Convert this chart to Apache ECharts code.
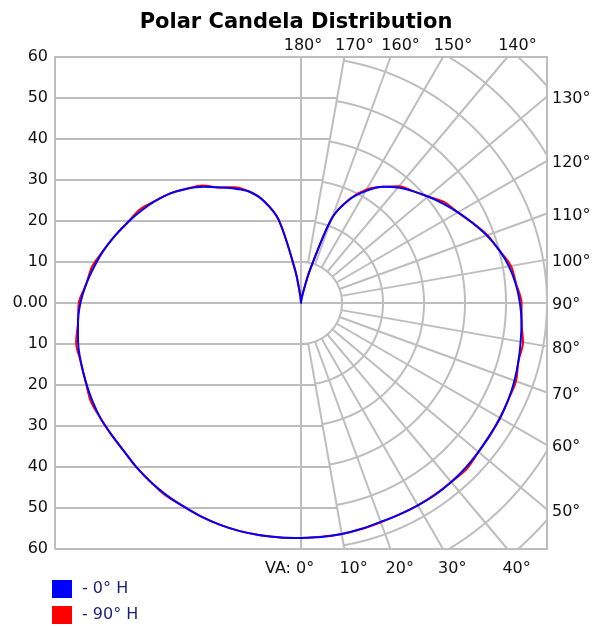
<!DOCTYPE html>
<html>
<head>
<meta charset="utf-8">
<script src="https://cdn.jsdelivr.net/npm/echarts@6.0.0/dist/echarts.min.js"></script>
<style>
  html, body { margin: 0; padding: 0; background: #ffffff; }
  #chart { width: 592px; height: 627px; }
</style>
</head>
<body>
<div id="chart"></div>
<script>
// Vertical angles (degrees from nadir) at which the candela values are given
const verticalAngles = [0,5,10,15,20,25,30,35,40,45,50,55,60,65,70,75,80,85,90,
                        95,100,105,110,115,120,125,130,135,140,145,150,155,160,165,170,175,180];

// 0° H series: right half (0° plane) and left half (180° plane)
const plane0 = [57.3,57.3,57.2,57.0,56.8,56.9,57.0,57.1,57.0,56.8,56.5,56.2,56.1,55.8,55.4,54.9,54.4,54.0,53.4,
                52.6,51.5,50.0,48.2,46.2,44.2,42.3,40.4,38.6,36.8,34.6,31.5,27.8,22.0,8.0,2.0,0.6,0];
const plane180 = [57.3,57.4,57.5,57.6,57.6,57.5,57.3,57.2,57.0,56.7,56.3,56.3,56.4,56.2,55.9,55.6,55.2,54.6,53.8,
                  52.6,51.2,49.8,48.2,46.6,45.0,43.4,41.6,39.4,37.0,34.4,32.2,30.0,26.5,21.0,8.0,1.5,0];

// 90° H series: right half (90° plane) and left half (270° plane)
const plane90 = [57.3,57.2,57.2,57.1,56.9,56.9,57.0,57.0,57.0,57.2,56.5,56.3,56.0,55.8,55.8,54.9,55.0,54.0,53.8,
                 52.7,52.0,50.0,48.4,46.2,44.2,42.8,40.4,38.6,37.2,34.6,32.0,27.9,22.0,8.1,2.0,0.6,0];
const plane270 = [57.3,57.4,57.5,57.6,57.6,57.5,57.3,57.4,57.0,56.7,56.3,56.3,56.4,56.6,55.9,55.6,55.7,54.6,54.2,
                  52.6,51.7,49.8,48.2,46.6,45.5,43.4,41.6,39.4,37.4,34.4,32.6,30.0,26.5,21.0,8.0,1.5,0];

// Intensity scale and angle grid
const intensityMax = 60;
const intensityStep = 10;
const gridAngles = [10,20,30,40,50,60,70,80,90,100,110,120,130,140,150,160,170];
const topAngleLabels = [180,170,160,150,140];
const rightAngleLabels = [130,120,110,100,90,80,70,60,50];
const bottomAngleLabels = [0,10,20,30,40];

const FONT = '"DejaVu Sans", Verdana, sans-serif';
const GRID_COLOR = '#bdbdbd';
const PLOT = { left: 55, top: 57, size: 492 };
const CX = PLOT.left + PLOT.size / 2;
const CY = PLOT.top + PLOT.size / 2;

// Closed outline: right half from nadir to zenith, then left half back down
function outline(right, left) {
  const pts = [];
  verticalAngles.forEach((a, i) => pts.push([right[i], a]));
  for (let i = verticalAngles.length - 1; i >= 0; i--) {
    pts.push([left[i], 360 - verticalAngles[i]]);
  }
  return pts;
}

const rad = d => d * Math.PI / 180;
// direction of a vertical angle in x-right / y-up units (0° points down)
const dir = a => [Math.sin(rad(a)), -Math.cos(rad(a))];

// where a ray from the centre leaves the plot square
function exitPoint(a) {
  const [dx, dy] = dir(a);
  let t = Infinity;
  if (dx > 1e-9) t = Math.min(t, intensityMax / dx);
  if (Math.abs(dy) > 1e-9) t = Math.min(t, intensityMax / Math.abs(dy));
  return [dx * t, dy * t];
}

// arc samples of a circle kept inside the right half of the square
function arcRuns(r, a0, a1) {
  const runs = [];
  let cur = null;
  for (let a = a0; a <= a1 + 1e-9; a += 0.1) {
    const [dx, dy] = dir(a);
    const x = dx * r, y = dy * r;
    if (x <= intensityMax + 1e-9 && Math.abs(y) <= intensityMax + 1e-9) {
      if (!cur) { cur = []; runs.push(cur); }
      cur.push([x, y]);
    } else {
      cur = null;
    }
  }
  return runs;
}

function renderGrid(params, api) {
  const P = p => api.coord(p);
  const children = [];
  const stroke = { stroke: GRID_COLOR, lineWidth: 2, fill: null };
  const poly = pts => children.push({ type: 'polyline', silent: true,
    shape: { points: pts.map(P) }, style: stroke });
  const text = (x, y, s, align) => children.push({ type: 'text', silent: true, x: x, y: y,
    style: { text: s, font: '16px ' + FONT, fill: '#111111', align: align || 'left', verticalAlign: 'middle' } });

  const tan10 = Math.tan(rad(10));
  // horizontal lines of the rectangular half, reaching to the 10°/170° rays
  for (let k = -intensityMax + intensityStep; k < intensityMax; k += intensityStep) {
    const xEnd = k === 0 ? intensityMax : Math.abs(k) * tan10;
    poly([[-intensityMax, k], [xEnd, k]]);
  }
  // vertical centre line
  poly([[0, -intensityMax], [0, intensityMax]]);
  // circles of the polar half
  for (let r = intensityStep; r <= intensityMax * Math.SQRT2; r += intensityStep) {
    const runs = r === intensityStep ? arcRuns(r, 0, 180) : arcRuns(r, 10, 170);
    runs.forEach(poly);
  }
  // rays
  gridAngles.forEach(a => {
    const [dx, dy] = dir(a);
    poly([[dx * intensityStep, dy * intensityStep], exitPoint(a)]);
  });
  // frame
  poly([[-intensityMax, -intensityMax], [intensityMax, -intensityMax],
        [intensityMax, intensityMax], [-intensityMax, intensityMax], [-intensityMax, -intensityMax]]);

  // angle labels
  topAngleLabels.forEach(a => {
    const p = P(exitPoint(a));
    text(p[0] + (a === 180 ? 2 : 10), p[1] - 11, a + '°', 'center');
  });
  rightAngleLabels.forEach(a => {
    const p = P(exitPoint(a));
    text(p[0] + 5, p[1] + 2, a + '°');
  });
  bottomAngleLabels.forEach(a => {
    const p = P(exitPoint(a));
    text(p[0] - 5, p[1] + 20, a + '°');
    if (a === 0) text(p[0] - 10, p[1] + 20, 'VA:', 'right');
  });
  return { type: 'group', children: children };
}

const chart = echarts.init(document.getElementById('chart'), null, { renderer: 'canvas' });
chart.setOption({
  animation: false,
  backgroundColor: '#ffffff',
  title: {
    text: 'Polar Candela Distribution',
    left: 'center',
    top: 7,
    textStyle: { fontFamily: FONT, fontWeight: 'bold', fontSize: 21, color: '#000000' }
  },
  legend: {
    orient: 'vertical',
    left: 52,
    top: 580,
    padding: 0,
    itemWidth: 20,
    itemHeight: 18,
    itemGap: 8,
    icon: 'rect',
    data: ['0° H', '90° H'],
    formatter: name => '- ' + name,
    textStyle: { fontFamily: FONT, fontSize: 16, color: '#1e1e78', padding: [0, 0, 0, 5] }
  },
  grid: { left: PLOT.left, top: PLOT.top, width: PLOT.size, height: PLOT.size },
  xAxis: { type: 'value', min: -intensityMax, max: intensityMax, show: false },
  yAxis: {
    type: 'value', min: -intensityMax, max: intensityMax, interval: intensityStep,
    axisLine: { show: false }, axisTick: { show: false }, splitLine: { show: false },
    axisLabel: {
      margin: 7, fontFamily: FONT, fontSize: 16, color: '#111111',
      formatter: v => v === 0 ? '0.00' : String(Math.abs(v))
    }
  },
  polar: { center: [CX, CY], radius: PLOT.size / 2 },
  angleAxis: {
    type: 'value', min: 0, max: 360, startAngle: 270, clockwise: false,
    axisLine: { show: false }, axisTick: { show: false }, axisLabel: { show: false }, splitLine: { show: false }
  },
  radiusAxis: {
    type: 'value', min: 0, max: intensityMax,
    axisLine: { show: false }, axisTick: { show: false }, axisLabel: { show: false }, splitLine: { show: false }
  },
  series: [
    {
      type: 'custom', coordinateSystem: 'cartesian2d', silent: true, z: 1,
      data: [[0, 0]], renderItem: renderGrid
    },
    {
      name: '90° H', type: 'line', coordinateSystem: 'polar', z: 3,
      showSymbol: false, symbol: 'none', smooth: 0.3,
      color: '#ff0000', lineStyle: { color: '#ff0000', width: 2 },
      data: outline(plane90, plane270)
    },
    {
      name: '0° H', type: 'line', coordinateSystem: 'polar', z: 4,
      showSymbol: false, symbol: 'none', smooth: 0.3,
      color: '#0000ff', lineStyle: { color: '#0000ff', width: 2 },
      data: outline(plane0, plane180)
    }
  ]
});
</script>
</body>
</html>
